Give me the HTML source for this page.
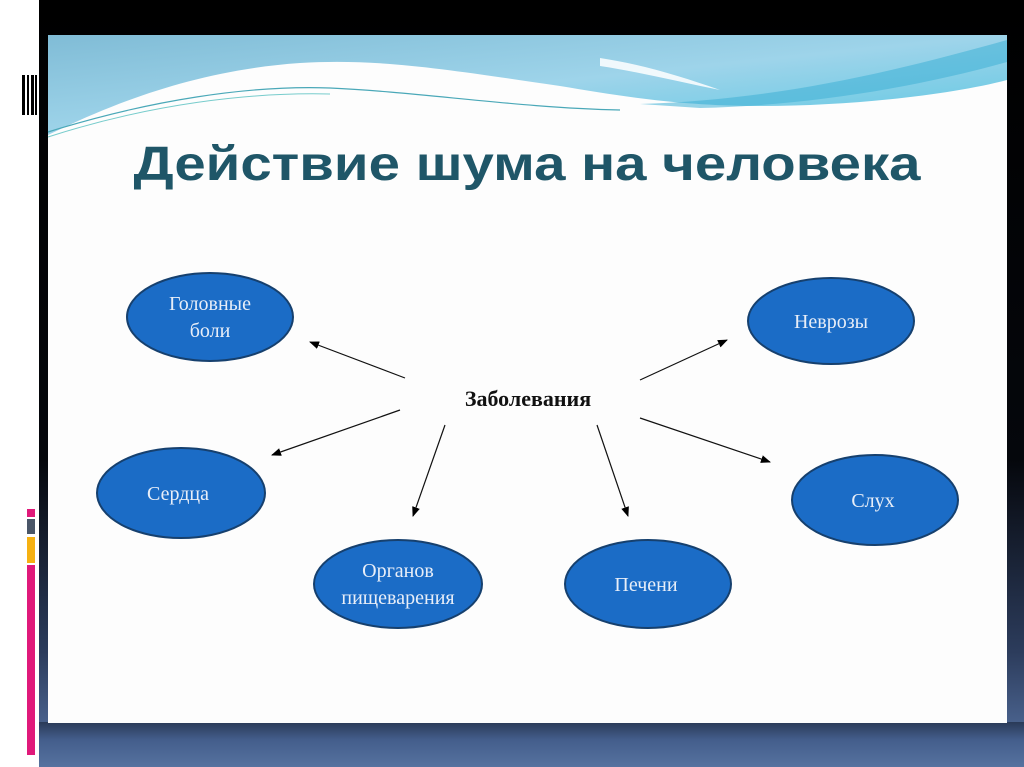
<!DOCTYPE html>
<html><head><meta charset="utf-8"><style>
html,body{margin:0;padding:0;width:1024px;height:767px;overflow:hidden;background:#fff}
</style></head><body>
<svg width="1024" height="767" viewBox="0 0 1024 767" xmlns="http://www.w3.org/2000/svg">
<defs>
<linearGradient id="bg" x1="0" y1="0" x2="0" y2="1">
<stop offset="0" stop-color="#000"/><stop offset="0.6" stop-color="#05070c"/><stop offset="0.85" stop-color="#2c3c5c"/><stop offset="1" stop-color="#5a77a8"/>
</linearGradient>
<linearGradient id="sky2" x1="0" y1="0" x2="1" y2="1">
<stop offset="0" stop-color="#80bcd6"/><stop offset="0.5" stop-color="#9ed4ea"/><stop offset="1" stop-color="#58c6e2"/>
</linearGradient>
<linearGradient id="bot" x1="0" y1="0" x2="0" y2="1">
<stop offset="0" stop-color="#2a3a58"/><stop offset="0.4" stop-color="#445e8c"/><stop offset="1" stop-color="#56729f"/>
</linearGradient>
<marker id="ar" markerWidth="10" markerHeight="8" refX="9" refY="4" orient="auto" markerUnits="userSpaceOnUse">
<path d="M0,0 L10,4 L0,8 z" fill="#000"/></marker>
</defs>
<rect x="39" y="0" width="985" height="767" fill="url(#bg)"/>
<rect x="39" y="722" width="985" height="45" fill="url(#bot)"/>
<rect x="22" y="75" width="3" height="40" fill="#000"/><rect x="27" y="75" width="2" height="40" fill="#000"/><rect x="31" y="75" width="3" height="40" fill="#000"/><rect x="35" y="75" width="2" height="40" fill="#000"/>
<rect x="27" y="509" width="8" height="8" fill="#e0197a"/>
<rect x="27" y="519" width="8" height="15" fill="#4a5668"/>
<rect x="27" y="537" width="8" height="26" fill="#f6b112"/>
<rect x="27" y="565" width="8" height="190" fill="#e0197a"/>
<rect x="48" y="35" width="959" height="688" fill="#fdfdfd"/>
<path d="M48,35 H1007 V80 C950,95 850,106 760,106 C680,106 620,96 560,86 C450,70 380,58 300,63 C200,70 120,100 48,135 Z" fill="url(#sky2)"/>
<path d="M600,58 C640,64 680,76 720,90 C680,82 640,72 600,66 Z" fill="#fff" opacity="0.85"/>
<path d="M48,132 C150,100 250,85 330,88 C420,92 520,108 620,110" stroke="#4aa8b8" stroke-width="1.2" fill="none"/>
<path d="M48,137 C150,104 250,92 330,94" stroke="#7cc" stroke-width="1" fill="none"/>
<path d="M640,104 C780,100 900,70 1007,40 V62 C900,92 790,106 700,108 Z" fill="#3fb0d6" opacity="0.55"/>
<text x="527" y="180" text-anchor="middle" font-family="Liberation Sans, sans-serif" font-weight="bold" font-size="48" fill="#1f5668" textLength="787" lengthAdjust="spacingAndGlyphs">Действие шума на человека</text>
<text x="528" y="406" text-anchor="middle" font-family="Liberation Serif, serif" font-weight="bold" font-size="22" fill="#111">Заболевания</text>
<g stroke="#111" stroke-width="1.2" marker-end="url(#ar)">
<line x1="405" y1="378" x2="310" y2="342"/>
<line x1="400" y1="410" x2="272" y2="455"/>
<line x1="445" y1="425" x2="413" y2="516"/>
<line x1="597" y1="425" x2="628" y2="516"/>
<line x1="640" y1="380" x2="727" y2="340"/>
<line x1="640" y1="418" x2="770" y2="462"/>
</g>
<g fill="#1b6cc6" stroke="#16406e" stroke-width="2">
<ellipse cx="210" cy="317" rx="83" ry="44"/>
<ellipse cx="831" cy="321" rx="83" ry="43"/>
<ellipse cx="181" cy="493" rx="84" ry="45"/>
<ellipse cx="875" cy="500" rx="83" ry="45"/>
<ellipse cx="398" cy="584" rx="84" ry="44"/>
<ellipse cx="648" cy="584" rx="83" ry="44"/>
</g>
<g fill="#e8eef8" font-family="Liberation Serif, serif" font-size="20" text-anchor="middle">
<text x="210" y="310">Головные</text><text x="210" y="337">боли</text>
<text x="831" y="328">Неврозы</text>
<text x="178" y="500">Сердца</text>
<text x="873" y="507">Слух</text>
<text x="398" y="577">Органов</text><text x="398" y="604">пищеварения</text>
<text x="646" y="591">Печени</text>
</g>
</svg>
</body></html>
